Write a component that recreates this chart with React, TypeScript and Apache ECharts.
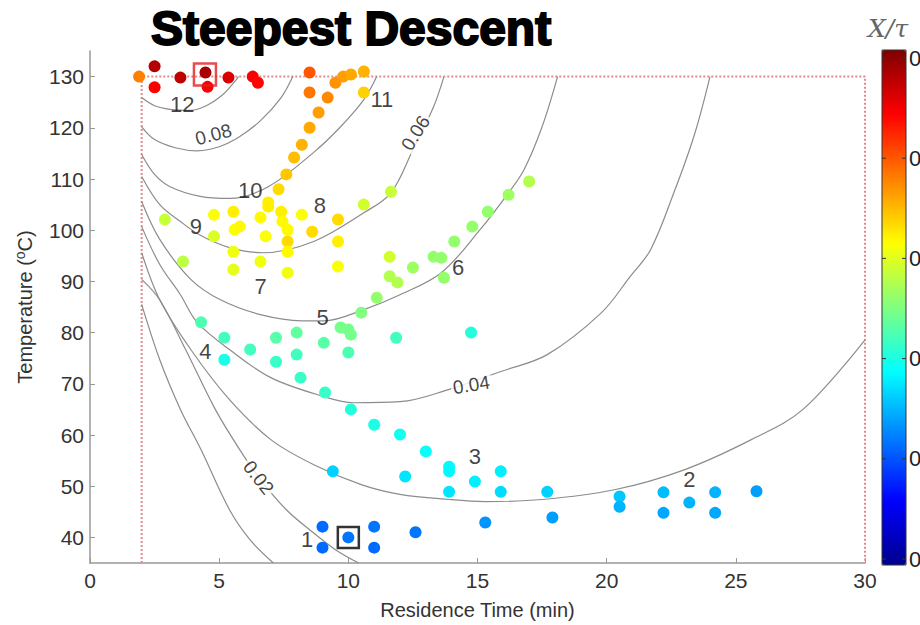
import React, { useEffect, useRef } from 'react';
import * as echarts from 'echarts';

// ---------- data ----------
const xTicks = [0, 5, 10, 15, 20, 25, 30];
const yTicks = [40, 50, 60, 70, 80, 90, 100, 110, 120, 130];
const colorbarTickLabels = ['0', '0', '0', '0', '0', '0'];

const constraintBox = [[2, 35], [2, 130], [30, 130], [30, 35]];

// contour lines of X/tau as [time, temperature]
const contour009 = [[2, 125.9], [2.5, 124.3], [3.1, 123.6], [3.9, 123.4], [4.5, 124.3], [5.1, 126.3], [5.6, 129], [5.75, 130]];
const contour008 = [[2, 120.2], [2.5, 117.7], [3.3, 116.1], [4.15, 115.5], [5.0, 116.3], [5.8, 118.3], [6.6, 121.4], [7.4, 125.9], [7.85, 130]];
const contour007 = [[2, 114.8], [2.5, 110.9], [3.1, 108.5], [4.27, 106.6], [5.4, 106.2], [6.9, 108.5], [8.66, 115.2], [9.7, 120.2], [10.6, 125.5], [11.1, 130]];
const contour006 = [[2, 110.5], [2.7, 105], [3.5, 101.7], [4.27, 99], [5.4, 96.6], [6.7, 95.6], [8.66, 97.8], [10.6, 103.4], [11.65, 107.3], [12.5, 115.7], [13.3, 124.1], [13.7, 130]];
const contour005 = [[2, 105.6], [2.7, 98.2], [3.9, 90.4], [5.05, 86.4], [6.6, 83.5], [8.2, 82.3], [9.05, 82.3], [10.6, 84.5], [12, 87.4], [13.6, 91.7], [15.1, 100.1], [16.2, 107.3], [16.8, 111.8], [17.5, 120.2], [18.1, 130]];
const contour004 = [[2, 100.7], [2.7, 93.3], [3.5, 87.4], [4.15, 82], [5.4, 76.7], [7, 71.2], [9.05, 67.5], [10.2, 66.3], [12, 66.5], [13.9, 68.9], [15.9, 72.4], [17.7, 75.7], [19.8, 83.9], [20.9, 90.9], [21.7, 96.2], [22.6, 107.3], [23.4, 118.7], [24, 130]];
const contour003 = [[2, 95.6], [2.7, 86.4], [3.9, 76.7], [5.4, 66.9], [7, 59.1], [8.66, 54.2], [10.5, 50.3], [12, 48.4], [13.9, 47.4], [15.3, 47], [17.5, 47.4], [20.3, 49.3], [23, 53.2], [25.6, 59.1], [27.6, 65], [30, 78.6]];
const contour002 = [[2, 90.4], [2.7, 86.4], [3.7, 76.7], [4.85, 65], [5.8, 57.1], [6.6, 51.3], [7.6, 45.4], [8.5, 41.5], [9.5, 37.6], [10.4, 35]];
const contour001 = [[2, 85.5], [2.7, 74.7], [3.5, 65], [4.3, 57.1], [5.4, 45.4], [6.2, 39.5], [7.1, 35]];

// experiments: [residence time, temperature, X/tau]
const iter1 = [[9, 42.1, 0.023], [9, 38, 0.023], [10, 40, 0.024], [11, 42.1, 0.024], [11, 38, 0.023], [12.6, 41, 0.024]];
const iter2 = [[20.5, 48, 0.032], [20.5, 46, 0.03], [22.2, 48.8, 0.031], [22.2, 44.8, 0.029], [23.2, 46.8, 0.03], [24.2, 48.8, 0.03], [24.2, 44.8, 0.029], [25.8, 49, 0.028], [17.9, 43.9, 0.028], [15.3, 42.9, 0.027]];
const iter3 = [[9.1, 68.3, 0.043], [10.1, 65, 0.041], [11, 62, 0.04], [12, 60.1, 0.039], [13, 56.8, 0.038], [13.9, 53.8, 0.037], [13.9, 52.9, 0.037], [14.9, 50.9, 0.036], [15.9, 52.9, 0.036], [15.9, 48.9, 0.034], [13.9, 48.9, 0.035], [12.2, 51.9, 0.035], [9.4, 52.9, 0.033], [17.7, 48.9, 0.033]];
const iter4and5 = [[4.3, 82, 0.045], [5.2, 79, 0.044], [5.2, 74.7, 0.04], [6.2, 76.7, 0.044], [7.2, 79, 0.046], [7.2, 74.3, 0.043], [8, 80, 0.047], [8, 75.7, 0.044], [8.15, 71.2, 0.043], [9.05, 78, 0.046], [10, 76.1, 0.045], [11.85, 79, 0.044], [14.75, 80, 0.041]];
const iter6 = [[11.6, 94.8, 0.058], [11.6, 91, 0.055], [11.9, 89.8, 0.055], [12.5, 92.7, 0.053], [13.3, 94.8, 0.052], [13.6, 94.6, 0.052], [13.7, 90.7, 0.052], [14.1, 97.8, 0.052], [14.8, 100.7, 0.052], [15.4, 103.6, 0.052], [16.2, 106.9, 0.053], [17, 109.5, 0.055], [11.1, 86.8, 0.052], [10.5, 83.9, 0.05], [10, 80.6, 0.049], [10.1, 79.6, 0.049], [9.7, 81, 0.049]];
const iter7to10 = [[2.9, 102.1, 0.057], [4.8, 103, 0.062], [4.8, 98.8, 0.059], [5.55, 103.6, 0.064], [5.6, 100.1, 0.062], [5.8, 100.7, 0.063], [5.55, 95.8, 0.061], [5.55, 92.3, 0.06], [6.6, 102.5, 0.063], [6.9, 104.6, 0.064], [6.8, 98.8, 0.062], [6.6, 93.9, 0.061], [7.4, 103.6, 0.064], [7.45, 101.7, 0.063], [7.65, 100.1, 0.063], [7.65, 97.8, 0.066], [7.65, 95.8, 0.063], [7.65, 91.7, 0.061], [8.2, 103, 0.062], [8.6, 99.7, 0.066], [9.6, 102.1, 0.066], [9.6, 97.8, 0.064], [9.6, 92.9, 0.062], [3.6, 93.9, 0.056], [10.6, 105, 0.058], [11.65, 107.5, 0.057], [6.9, 105.4, 0.064]];
const iter11 = [[8.5, 130.8, 0.079], [8.5, 126.9, 0.076], [9.2, 125.9, 0.074], [9.5, 128.8, 0.073], [9.8, 130, 0.072], [10.1, 130.4, 0.071], [10.6, 131, 0.07], [10.6, 126.9, 0.067], [8.85, 123, 0.072], [8.5, 120, 0.071], [8.2, 116.7, 0.07], [7.9, 114.2, 0.069], [7.6, 110.9, 0.068], [7.3, 108, 0.066]];
const iter12 = [[1.9, 130, 0.075], [2.5, 132, 0.095], [2.5, 127.9, 0.088], [3.5, 129.8, 0.094], [4.47, 130.8, 0.096], [4.55, 128, 0.088], [5.36, 129.8, 0.091], [6.3, 130, 0.088], [6.5, 128.8, 0.087]];

const optimumFound = [[4.45, 130.4]];
const startPoint = [[10, 40]];

const iterationNames = ['1', '2', '3', '4', '5', '6', '7', '8', '9', '10', '11', '12'];
const iterationLabelTime = [8.4, 23.2, 14.9, 4.47, 9.0, 14.25, 6.6, 8.9, 4.1, 6.2, 11.3, 3.57];
const iterationLabelTemp = [39.6, 51.3, 55.8, 76.3, 82.9, 92.7, 89.0, 104.8, 100.7, 107.7, 125.5, 124.5];

const contourLabelNames = ['0.08', '0.06', '0.04', '0.02'];
const contourLabelTime = [4.78, 12.6, 14.76, 6.52];
const contourLabelTemp = [118.7, 119.0, 69.8, 51.7];
const contourLabelAngle = [15, 58, 9, -52];

const jet = ['#00008f', '#0000ff', '#0080ff', '#00ffff', '#80ff80', '#ffff00', '#ff8000', '#ff0000', '#800000'];

const FONT = '"Liberation Sans", Arial, sans-serif';

export default function App() {
  const ref = useRef<HTMLDivElement>(null);

  useEffect(() => {
    if (!ref.current) return;
    const chart = echarts.init(ref.current, undefined, { renderer: 'svg' });

    const contours = [contour001, contour002, contour003, contour004, contour005, contour006, contour007, contour008, contour009];
    const allPoints = [...iter1, ...iter2, ...iter3, ...iter4and5, ...iter6, ...iter7to10, ...iter11, ...iter12];

    const series: any[] = [];
    series.push({
      type: 'line',
      data: constraintBox,
      symbol: 'none',
      silent: true,
      lineStyle: { type: [2, 2], color: '#e58a8a', width: 2 },
      z: 1,
    });
    contours.forEach((c) => {
      series.push({
        type: 'line',
        data: c,
        symbol: 'none',
        smooth: 0.35,
        silent: true,
        lineStyle: { color: '#8c8c8c', width: 1.2 },
        z: 2,
      });
    });
    const pointSeriesIndex = series.length;
    series.push({
      type: 'scatter',
      data: allPoints,
      symbolSize: 12,
      itemStyle: { opacity: 1 },
      z: 5,
    });
    series.push({
      type: 'scatter',
      data: optimumFound,
      symbol: 'rect',
      symbolSize: 22,
      itemStyle: { color: 'rgba(0,0,0,0)', borderColor: '#e02020', borderWidth: 2.5 },
      z: 6,
    });
    series.push({
      type: 'scatter',
      data: startPoint,
      symbol: 'rect',
      symbolSize: 21,
      itemStyle: { color: 'rgba(0,0,0,0)', borderColor: '#000', borderWidth: 2.5 },
      z: 6,
    });
    series.push({
      type: 'scatter',
      symbolSize: 0,
      silent: true,
      data: iterationNames.map((n, i) => ({ name: n, value: [iterationLabelTime[i], iterationLabelTemp[i]] })),
      label: {
        show: true,
        position: 'inside',
        formatter: '{b}',
        color: '#111',
        fontSize: 22,
        fontFamily: FONT,
      },
      z: 7,
    });
    series.push({
      type: 'scatter',
      symbolSize: 0,
      silent: true,
      data: contourLabelNames.map((n, i) => ({
        name: n,
        value: [contourLabelTime[i], contourLabelTemp[i]],
        label: { rotate: contourLabelAngle[i] },
      })),
      label: {
        show: true,
        position: 'inside',
        formatter: '{b}',
        color: '#111',
        fontSize: 19,
        fontFamily: FONT,
        backgroundColor: '#fff',
        padding: [0, 2],
      },
      z: 4,
    });

    const cbTop = 50;
    const cbHeight = 515;
    const cbLeft = 882;
    const cbWidth = 24;

    const graphics: any[] = [
      {
        type: 'text',
        left: 150,
        top: 3,
        style: {
          text: 'Steepest Descent',
          fontSize: 48,
          fontWeight: 'bold',
          fontFamily: FONT,
          fill: '#000',
          stroke: '#000',
          lineWidth: 2,
        },
      },
      {
        type: 'text',
        x: 868,
        y: 16,
        style: {
          text: 'X/τ',
          fontSize: 25,
          fontStyle: 'italic',
          fontFamily: '"DejaVu Serif", "Liberation Serif", serif',
          fill: '#666',
        },
      },
      {
        type: 'rect',
        shape: { x: cbLeft, y: cbTop, width: cbWidth, height: cbHeight },
        style: { fill: 'none', stroke: '#333', lineWidth: 1 },
        z: 100,
      },
    ];
    colorbarTickLabels.forEach((t, i) => {
      const y = cbTop + 8 + (i * (cbHeight - 14)) / (colorbarTickLabels.length - 1);
      graphics.push({
        type: 'text',
        x: cbLeft + cbWidth + 3,
        y,
        style: { text: t, fontSize: 22, fontFamily: FONT, fill: '#222', verticalAlign: 'middle' },
        z: 100,
      });
      graphics.push({
        type: 'line',
        shape: { x1: cbLeft, y1: y, x2: cbLeft + 4, y2: y },
        style: { stroke: '#333', lineWidth: 1 },
        z: 100,
      });
      graphics.push({
        type: 'line',
        shape: { x1: cbLeft + cbWidth - 4, y1: y, x2: cbLeft + cbWidth, y2: y },
        style: { stroke: '#333', lineWidth: 1 },
        z: 100,
      });
    });

    chart.setOption({
      animation: false,
      backgroundColor: '#fff',
      grid: { left: 90, right: 55, top: 51, bottom: 61 },
      xAxis: {
        type: 'value',
        min: 0,
        max: 30,
        interval: 5,
        name: 'Residence Time (min)',
        nameLocation: 'middle',
        nameGap: 37,
        nameTextStyle: { fontSize: 20, color: '#333', fontFamily: FONT },
        axisLine: { lineStyle: { color: '#999', width: 1.5 } },
        axisTick: { inside: true, length: 5, lineStyle: { color: '#999' } },
        axisLabel: { fontSize: 21, color: '#333', fontFamily: FONT, margin: 7, customValues: xTicks },
        splitLine: { show: false },
      },
      yAxis: {
        type: 'value',
        min: 35,
        max: 135,
        name: 'Temperature ({sup|o}C)',
        nameLocation: 'middle',
        nameRotate: 90,
        nameGap: 53,
        nameTextStyle: {
          fontSize: 20,
          color: '#333',
          fontFamily: FONT,
          rich: { sup: { fontSize: 14, color: '#333', fontFamily: FONT, padding: [0, 0, 10, 0] } },
        },
        axisLine: { show: true, lineStyle: { color: '#999', width: 1.5 } },
        axisTick: { show: true, inside: true, length: 5, lineStyle: { color: '#999' }, customValues: yTicks },
        axisLabel: { fontSize: 21, color: '#333', fontFamily: FONT, margin: 6, customValues: yTicks },
        splitLine: { show: false },
      },
      visualMap: {
        type: 'continuous',
        min: 0,
        max: 0.1,
        dimension: 2,
        seriesIndex: pointSeriesIndex,
        calculable: false,
        orient: 'vertical',
        left: cbLeft,
        top: cbTop,
        itemWidth: cbWidth,
        itemHeight: cbHeight,
        padding: 0,
        text: ['', ''],
        inRange: { color: jet },
      },
      graphic: graphics,
      series,
    });

    return () => chart.dispose();
  }, []);

  return <div ref={ref} style={{ position: 'fixed', left: 0, top: 0, width: 920, height: 625 }} />;
}
